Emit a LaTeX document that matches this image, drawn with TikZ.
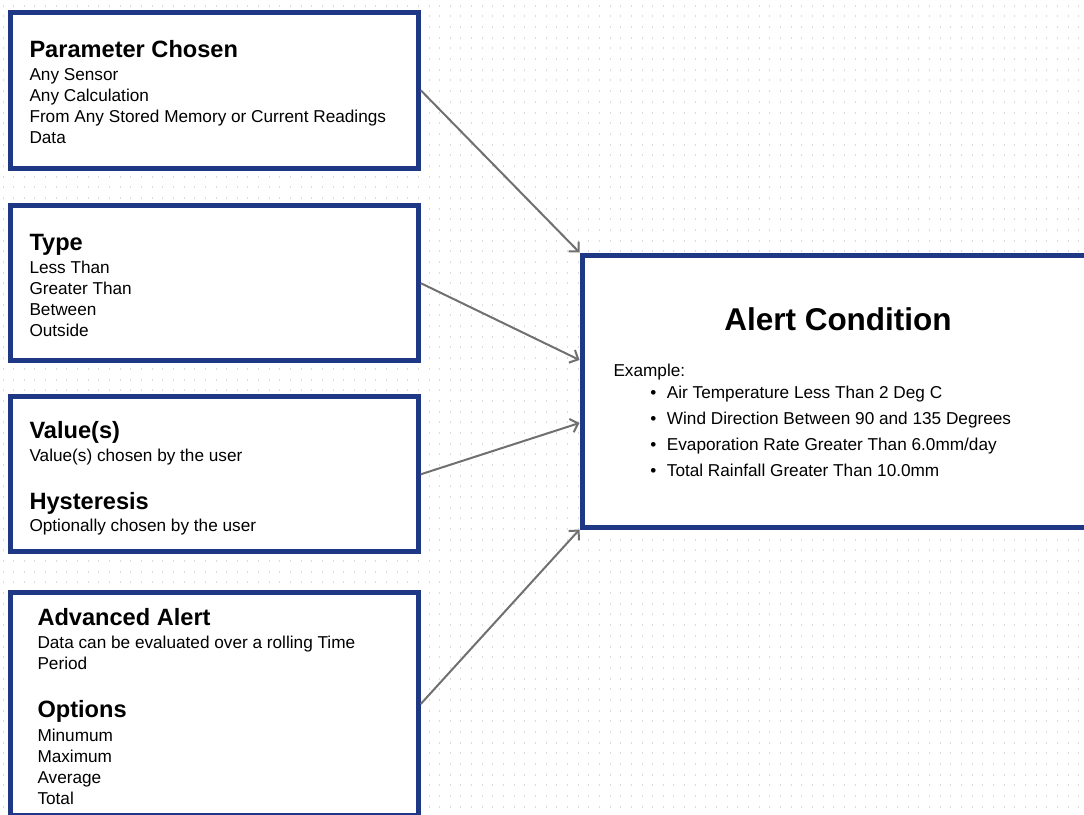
\documentclass[tikz,border=0pt]{standalone}
\usepackage{fontspec}
\setmainfont{Liberation Sans}
\usetikzlibrary{arrows.meta,calc}
\definecolor{navy}{RGB}{31,56,133}
\definecolor{arrowgray}{RGB}{112,112,112}
\definecolor{dotgray}{RGB}{220,220,220}
\begin{document}
\begin{tikzpicture}[x=1pt,y=-1pt,
  box/.style={draw=navy, line width=5pt, fill=white, rectangle, inner sep=0pt, minimum width=407.5pt},
  bodytxt/.style={anchor=base west, inner sep=0pt, font=\fontsize{17.2}{20}\selectfont, text=black},
  headtxt/.style={anchor=base west, inner sep=0pt, font=\fontsize{23.6}{26}\selectfont\bfseries, text=black},
  bul/.style={anchor=base, inner sep=0pt, font=\fontsize{17.2}{20}\selectfont, text=black},
  link/.style={draw=arrowgray, line width=2pt, -{Straight Barb[length=7pt,width=14pt]}}]
\useasboundingbox (0,0) rectangle (1084,814);
\clip (0,0) rectangle (1084,814);
\fill[white] (0,0) rectangle (1084,814);
% dotted grid
\foreach \i in {0,...,101} {
  \draw[dotgray, line width=1pt, dash pattern=on 2pt off 8.68pt] ({3+10.65*\i},4.7) -- ({3+10.65*\i},814);
}
% boxes
\node[box, minimum height=155.5pt] (b1) at (214.5,90.25) {};
\node[box, minimum height=155.3pt] (b2) at (214.5,283.15) {};
\node[box, minimum height=155pt] (b3) at (214.5,474.3) {};
\node[box, minimum height=223pt] (b4) at (214.5,704) {};
\node[box, minimum width=512pt, minimum height=272pt] (alert) at (838,391) {};
% box 1 text
\node[headtxt] (h1) at (29.3,57.3) {Parameter Chosen};
\node[bodytxt] (t1a) at (29.3,80.7) {Any Sensor};
\node[bodytxt] (t1b) at (29.3,101.7) {Any Calculation};
\node[bodytxt] (t1c) at (29.3,122.7) {From Any Stored Memory or Current Readings};
\node[bodytxt] (t1d) at (29.3,143.7) {Data};
% box 2 text
\node[headtxt] (h2) at (29.3,250) {Type};
\node[bodytxt] (t2a) at (29.3,273.3) {Less Than};
\node[bodytxt] (t2b) at (29.3,294.5) {Greater Than};
\node[bodytxt] (t2c) at (29.3,315.6) {Between};
\node[bodytxt] (t2d) at (29.3,336.7) {Outside};
% box 3 text
\node[headtxt] (h3) at (29.3,438.3) {Value(s)};
\node[bodytxt] (t3a) at (29.3,461) {Value(s) chosen by the user};
\node[headtxt] (h3b) at (29.3,509.3) {Hysteresis};
\node[bodytxt] (t3b) at (29.3,531.7) {Optionally chosen by the user};
% box 4 text
\node[headtxt] (h4) at (37.3,625) {Advanced Alert};
\node[bodytxt] (t4a) at (37.3,648.3) {Data can be evaluated over a rolling Time};
\node[bodytxt] (t4b) at (37.3,669.3) {Period};
\node[headtxt] (h4b) at (37.3,717.5) {Options};
\node[bodytxt] (t4c) at (37.3,741) {Minumum};
\node[bodytxt] (t4d) at (37.3,762) {Maximum};
\node[bodytxt] (t4e) at (37.3,783.2) {Average};
\node[bodytxt] (t4f) at (37.3,804.2) {Total};
% alert text
\node[anchor=base, inner sep=0pt, font=\fontsize{31.5}{34}\selectfont\bfseries] (title) at (838,330.7) {Alert Condition};
\node[bodytxt] (ex) at (613.3,376.7) {Example:};
\node[bul] (p1) at (653.3,398.5) {•};
\node[bodytxt] (e1) at (666.7,398.5) {Air Temperature Less Than 2 Deg C};
\node[bul] (p2) at (653.3,424.3) {•};
\node[bodytxt] (e2) at (666.7,424.3) {Wind Direction Between 90 and 135 Degrees};
\node[bul] (p3) at (653.3,450.3) {•};
\node[bodytxt] (e3) at (666.7,450.3) {Evaporation Rate Greater Than 6.0mm/day};
\node[bul] (p4) at (653.3,476.5) {•};
\node[bodytxt] (e4) at (666.7,476.5) {Total Rainfall Greater Than 10.0mm};
% connectors
\draw[link] (b1.east) -- (alert.north west);
\draw[link] (b2.east) -- ($(alert.north west)!0.388!(alert.south west)$);
\draw[link] (b3.east) -- ($(alert.north west)!0.6155!(alert.south west)$);
\draw[link] (b4.east) -- (alert.south west);
\end{tikzpicture}
\end{document}
